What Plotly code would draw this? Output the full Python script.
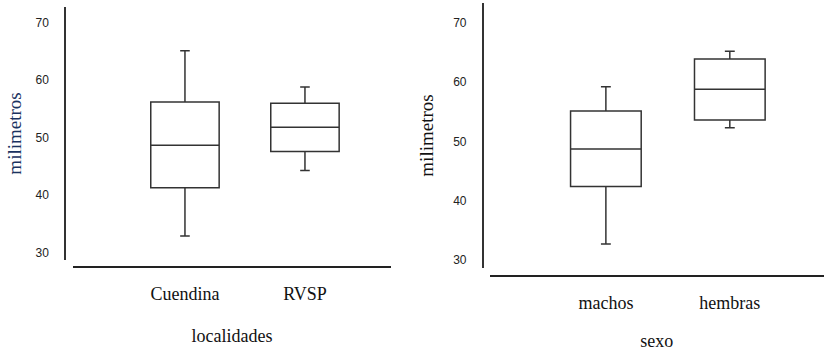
import plotly.graph_objects as go

# ---- data ----
loc_categories = ["Cuendina", "RVSP"]
loc_lower = [32.9, 44.3]
loc_q1 = [41.3, 47.6]
loc_median = [48.7, 51.8]
loc_q3 = [56.2, 56.0]
loc_upper = [65.1, 58.8]

sex_categories = ["machos", "hembras"]
sex_lower = [32.7, 52.3]
sex_q1 = [42.4, 53.6]
sex_median = [48.7, 58.8]
sex_q3 = [55.1, 63.9]
sex_upper = [59.2, 65.2]

y_ticks = [30, 40, 50, 60, 70]

W, H = 824, 351
LINE = "#333333"
SERIF = "Liberation Serif, Times New Roman, serif"
SANS = "Liberation Sans, Arial, sans-serif"

fig = go.Figure()

for i, c in enumerate(loc_categories):
    fig.add_trace(go.Box(
        x=[c], q1=[loc_q1[i]], median=[loc_median[i]], q3=[loc_q3[i]],
        lowerfence=[loc_lower[i]], upperfence=[loc_upper[i]],
        xaxis="x", yaxis="y", width=0.57, whiskerwidth=0.14,
        fillcolor="rgba(255,255,255,0)", line=dict(color=LINE, width=1.5),
        boxpoints=False, showlegend=False, hoverinfo="skip"))

for i, c in enumerate(sex_categories):
    fig.add_trace(go.Box(
        x=[c], q1=[sex_q1[i]], median=[sex_median[i]], q3=[sex_q3[i]],
        lowerfence=[sex_lower[i]], upperfence=[sex_upper[i]],
        xaxis="x2", yaxis="y2", width=0.57, whiskerwidth=0.14,
        fillcolor="rgba(255,255,255,0)", line=dict(color=LINE, width=1.5),
        boxpoints=False, showlegend=False, hoverinfo="skip"))

def px_x(p):
    return p / W

def px_y(p):
    return 1 - p / H

xcommon = dict(showgrid=False, zeroline=False, showline=True, linecolor="#222222",
               linewidth=1.5, ticks="", tickfont=dict(family=SERIF, size=18, color="#111111"),
               ticklabelstandoff=11, automargin=False, fixedrange=True, anchor="free")
ycommon = dict(showgrid=False, zeroline=False, showline=True, linecolor="#333333",
               linewidth=1.5, ticks="", tickvals=y_ticks,
               tickfont=dict(family=SANS, size=12, color="#222222"),
               ticklabelstandoff=13, automargin=False, fixedrange=True, anchor="free")

fig.update_layout(
    width=W, height=H,
    margin=dict(l=0, r=0, t=0, b=0),
    paper_bgcolor="white", plot_bgcolor="white",
    xaxis=dict(xcommon, domain=[px_x(73), px_x(391)], position=px_y(267),
               range=[-0.933, 1.717], categoryorder="array", categoryarray=loc_categories,
               title=dict(text="localidades", font=dict(family=SERIF, size=18, color="#111111"),
                          standoff=25)),
    yaxis=dict(ycommon, domain=[px_y(260), px_y(7)], position=px_x(65),
               range=[28.73, 72.73],
               title=dict(text="milimetros", font=dict(family=SERIF, size=19, color="#1a3260"),
                          standoff=8)),
    xaxis2=dict(xcommon, domain=[px_x(490), px_x(823.5)], position=px_y(275.7),
                range=[-0.935, 1.756], categoryorder="array", categoryarray=sex_categories,
                title=dict(text="sexo", font=dict(family=SERIF, size=18, color="#111111"),
                           standoff=21)),
    yaxis2=dict(ycommon, domain=[px_y(268), px_y(3)], position=px_x(482.7),
                range=[28.65, 73.32],
                title=dict(text="milimetros", font=dict(family=SERIF, size=19, color="#111111"),
                           standoff=14)),
)

fig.write_html("out.html", config={"displayModeBar": False},
               post_script="document.body.style.margin='0';")
